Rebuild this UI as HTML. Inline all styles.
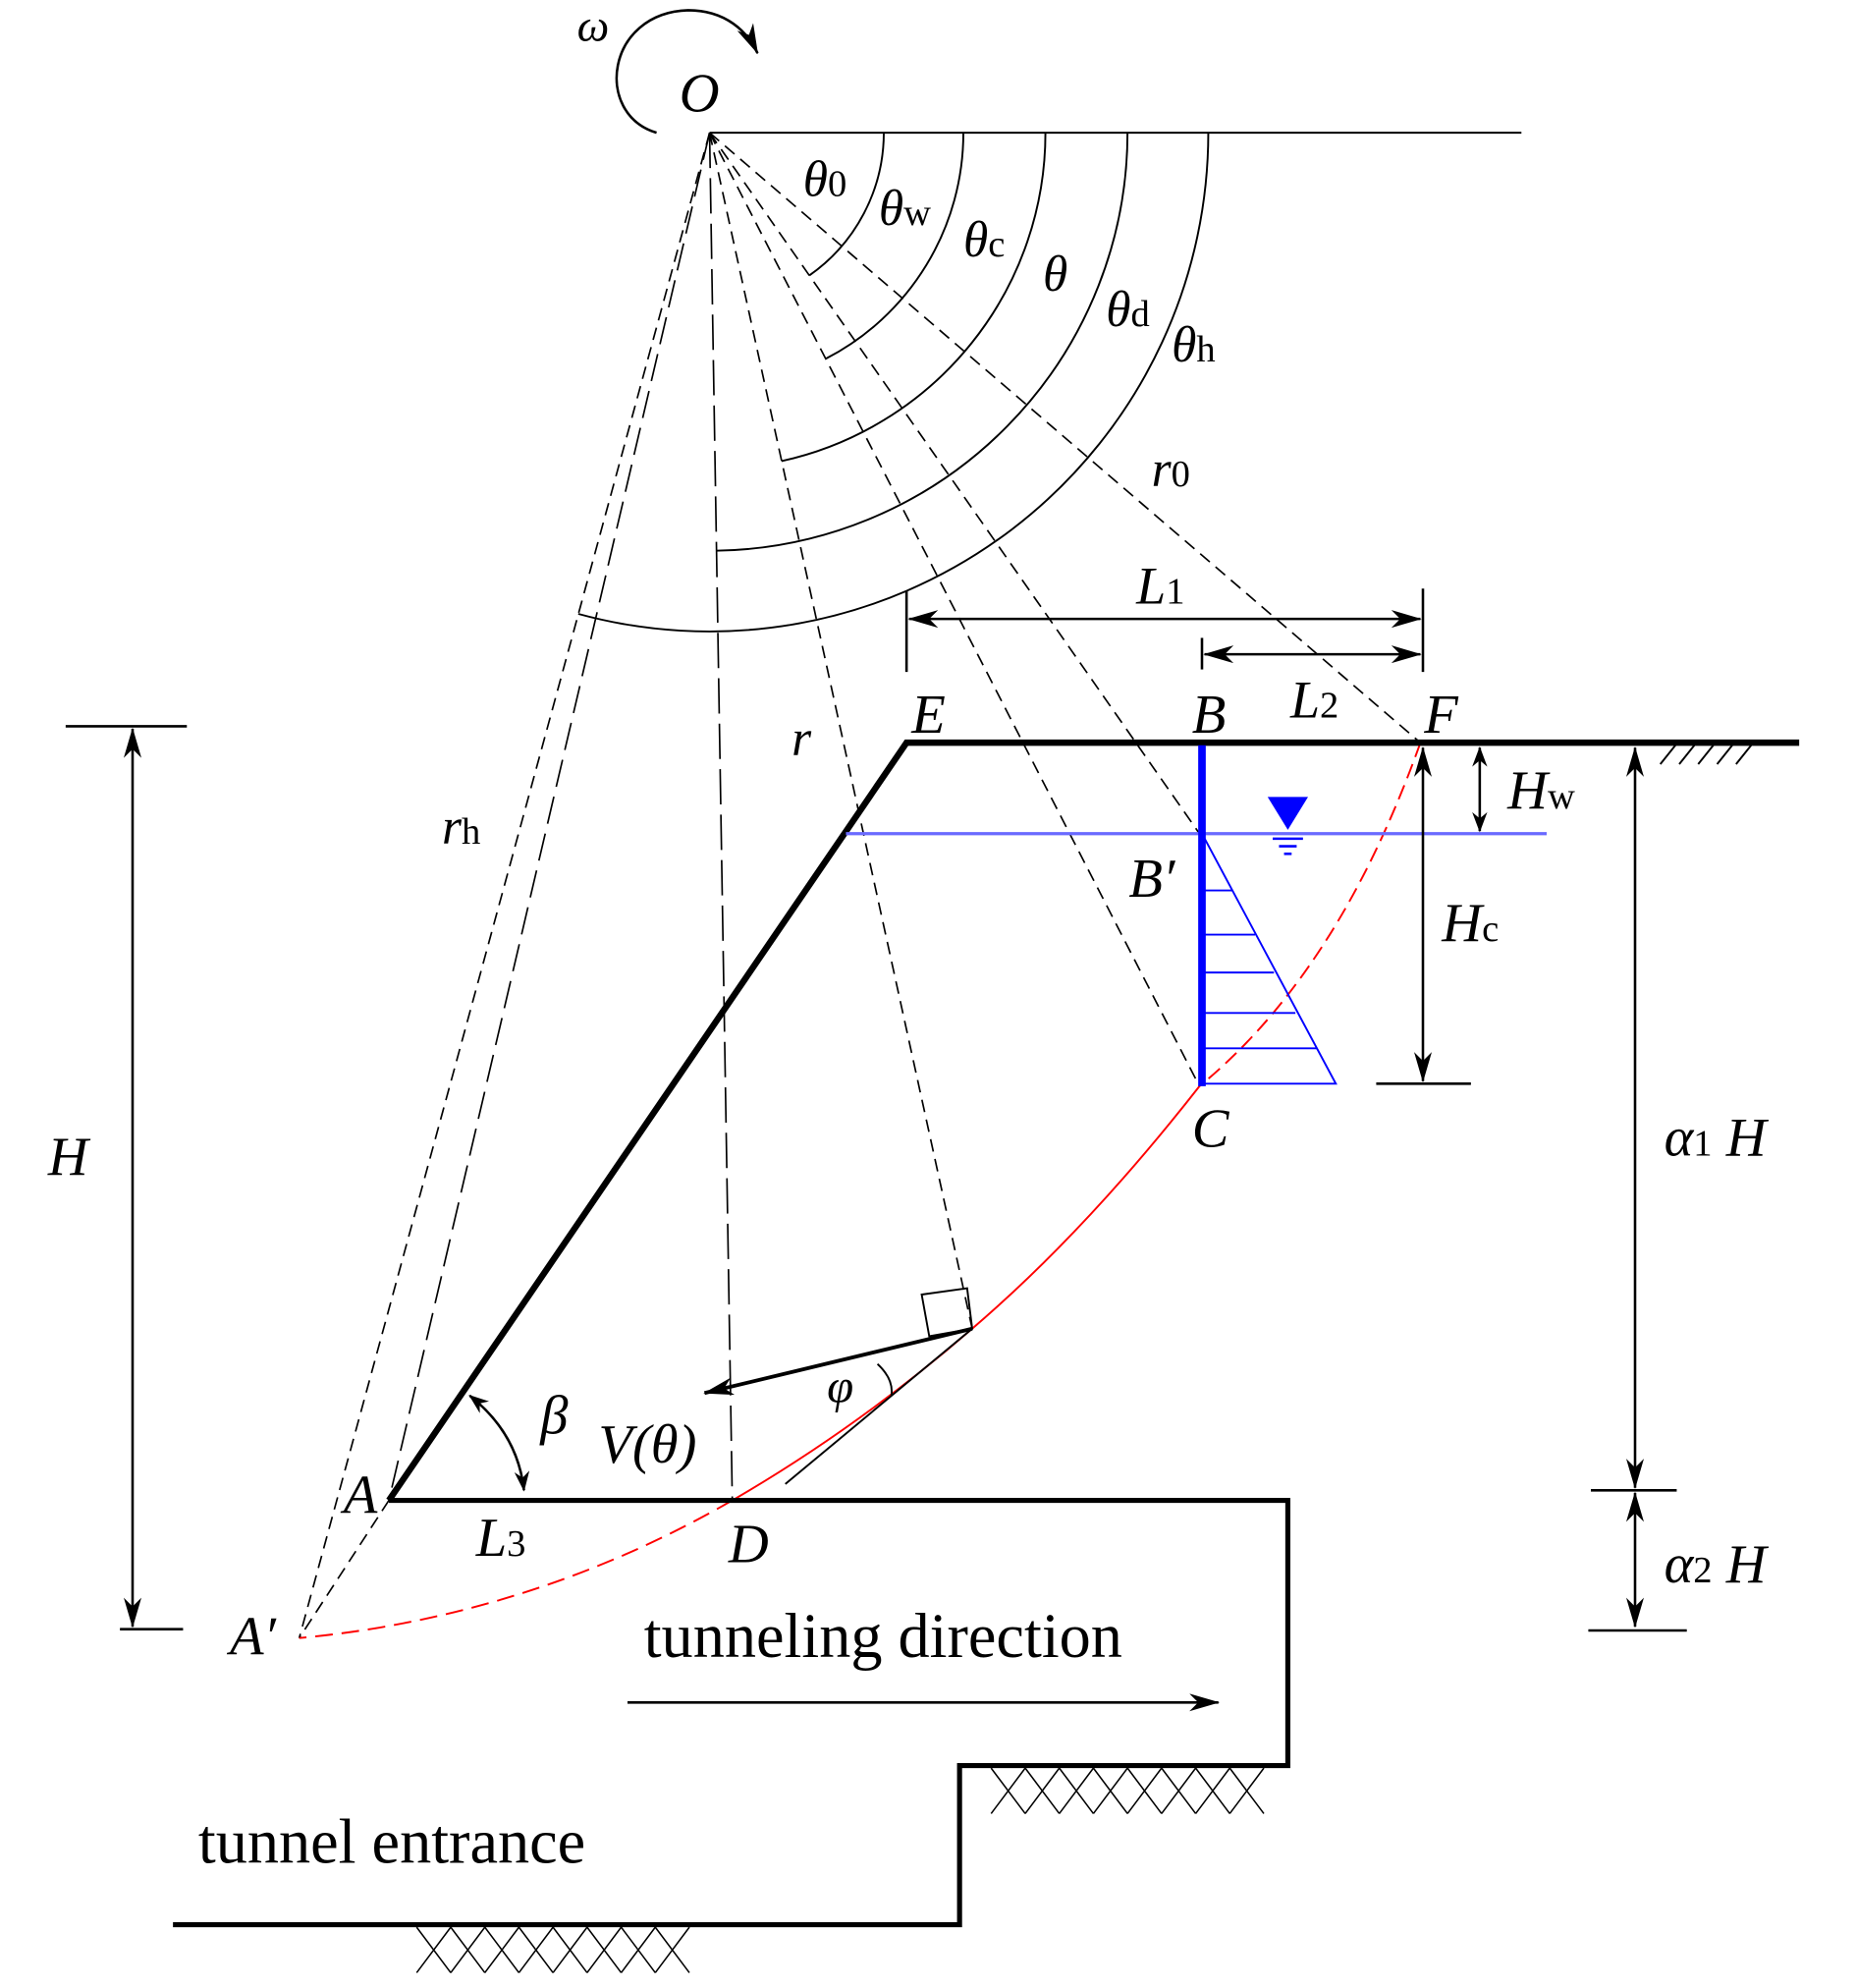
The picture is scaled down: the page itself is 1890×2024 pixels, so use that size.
<!DOCTYPE html>
<html><head><meta charset="utf-8"><style>
html,body{margin:0;padding:0;background:#fff;}
svg{display:block;}
text{font-family:"Liberation Serif",serif;font-style:italic;fill:#000;}
</style></head><body>
<svg width="1890" height="2024" viewBox="0 0 1470 1574" xmlns="http://www.w3.org/2000/svg">
<defs>
<marker id="ar" viewBox="0 0 24 14" refX="23" refY="7" markerWidth="24" markerHeight="14" markerUnits="userSpaceOnUse" orient="auto-start-reverse">
<path d="M0,0 L24,7 L0,14 L7,7 Z" fill="#000"/></marker>
<marker id="as" viewBox="0 0 16 12" refX="15" refY="6" markerWidth="16" markerHeight="12" markerUnits="userSpaceOnUse" orient="auto-start-reverse">
<path d="M0,0 L16,6 L0,12 L5,6 Z" fill="#000"/></marker>
</defs>
<line x1="562" y1="105" x2="1205" y2="105" stroke="#000" stroke-width="1.5"/>
<g fill="none" stroke="#000" stroke-width="1.5">
<path d="M700,105 A138,138 0 0 1 641,218"/>
<path d="M763,105 A201,201 0 0 1 654,284"/>
<path d="M828,105 A266,266 0 0 1 619,365"/>
<path d="M893,105 A331,331 0 0 1 567,436"/>
<path d="M957,105 A395,395 0 0 1 458,486"/>
</g>
<g stroke="#000" stroke-width="1.3" stroke-dasharray="10,6" fill="none">
<line x1="562" y1="105" x2="1125" y2="588"/>
<line x1="562" y1="105" x2="950" y2="660"/>
<line x1="562" y1="105" x2="950" y2="860"/>
<line x1="562" y1="105" x2="770" y2="1052"/>
<line x1="562" y1="105" x2="580" y2="1188" stroke-dasharray="28,8"/>
<line x1="562" y1="105" x2="308" y2="1188" stroke-dasharray="22,8"/>
<line x1="562" y1="105" x2="237" y2="1297"/>
<line x1="308" y1="1188" x2="237" y2="1297"/>
</g>
<path d="M1125,588 Q1060,770 950,860" fill="none" stroke="#f00" stroke-width="1.5" stroke-dasharray="12,6"/>
<path d="M950,860 Q860,975 770,1052 Q680,1130 580,1188" fill="none" stroke="#f00" stroke-width="1.5"/>
<path d="M580,1188 Q420,1280 237,1297" fill="none" stroke="#f00" stroke-width="1.5" stroke-dasharray="14,7"/>
<path d="M308,1188 L718,588 L1425,588" fill="none" stroke="#000" stroke-width="5"/>
<path d="M308,1188 L1020,1188 L1020,1398 L760,1398 L760,1524 L137,1524" fill="none" stroke="#000" stroke-width="4"/>
<g stroke="#000" stroke-width="1.5">
<line x1="1315" y1="605" x2="1327" y2="590"/><line x1="1330" y1="605" x2="1342" y2="590"/><line x1="1345" y1="605" x2="1357" y2="590"/><line x1="1360" y1="605" x2="1372" y2="590"/><line x1="1375" y1="605" x2="1387" y2="590"/>
</g>
<g stroke="#000" stroke-width="1.2">
<path d="M785,1400 l27,36 M812,1400 l-27,36 M812,1400 l27,36 M839,1400 l-27,36 M839,1400 l27,36 M866,1400 l-27,36 M866,1400 l27,36 M893,1400 l-27,36 M893,1400 l27,36 M920,1400 l-27,36 M920,1400 l27,36 M947,1400 l-27,36 M947,1400 l27,36 M974,1400 l-27,36 M974,1400 l27,36 M1001,1400 l-27,36"/>
<path d="M330,1526 l27,36 M357,1526 l-27,36 M357,1526 l27,36 M384,1526 l-27,36 M384,1526 l27,36 M411,1526 l-27,36 M411,1526 l27,36 M438,1526 l-27,36 M438,1526 l27,36 M465,1526 l-27,36 M465,1526 l27,36 M492,1526 l-27,36 M492,1526 l27,36 M519,1526 l-27,36 M519,1526 l27,36 M546,1526 l-27,36"/>
</g>
<line x1="670" y1="660" x2="1225" y2="660" stroke="#6a6aff" stroke-width="2.5"/>
<path d="M952,660 L1058,858 L952,858" fill="none" stroke="#00f" stroke-width="1.5"/>
<g stroke="#00f" stroke-width="1.5">
<line x1="952" y1="705" x2="976" y2="705"/><line x1="952" y1="740" x2="994" y2="740"/><line x1="952" y1="770" x2="1009" y2="770"/><line x1="952" y1="802" x2="1026" y2="802"/><line x1="952" y1="830" x2="1043" y2="830"/>
</g>
<line x1="952" y1="590" x2="952" y2="860" stroke="#00f" stroke-width="6"/>
<path d="M1004,631 L1036,631 L1020,657 Z" fill="#00f"/>
<g stroke="#00f" stroke-width="2"><line x1="1008" y1="664" x2="1032" y2="664"/><line x1="1013" y1="670" x2="1027" y2="670"/><line x1="1017" y1="676" x2="1023" y2="676"/></g>
<g stroke="#000" stroke-width="2" fill="none">
<line x1="718" y1="468" x2="718" y2="532"/><line x1="1127" y1="466" x2="1127" y2="532"/><line x1="952" y1="505" x2="952" y2="530"/>
<line x1="720" y1="490" x2="1125" y2="490" marker-start="url(#ar)" marker-end="url(#ar)"/>
<line x1="954" y1="518" x2="1125" y2="518" marker-start="url(#ar)" marker-end="url(#ar)"/>
<line x1="52" y1="575" x2="148" y2="575"/><line x1="95" y1="1290" x2="145" y2="1290"/>
<line x1="105" y1="577" x2="105" y2="1288" marker-start="url(#ar)" marker-end="url(#ar)"/>
<line x1="1127" y1="592" x2="1127" y2="856" marker-start="url(#ar)" marker-end="url(#ar)"/>
<line x1="1090" y1="858" x2="1165" y2="858"/>
<line x1="1172" y1="592" x2="1172" y2="658" marker-start="url(#as)" marker-end="url(#as)"/>
<line x1="1295" y1="592" x2="1295" y2="1178" marker-start="url(#ar)" marker-end="url(#ar)"/>
<line x1="1260" y1="1180" x2="1328" y2="1180"/>
<line x1="1295" y1="1182" x2="1295" y2="1288" marker-start="url(#ar)" marker-end="url(#ar)"/>
<line x1="1258" y1="1291" x2="1336" y2="1291"/>
<line x1="497" y1="1348" x2="965" y2="1348" marker-end="url(#ar)"/>
<line x1="770" y1="1052" x2="558" y2="1103" marker-end="url(#ar)" stroke-width="3"/>
<path d="M730,1025 L766,1020 L770,1052 L736,1058 Z" stroke-width="1.5"/>
<line x1="770" y1="1052" x2="622" y2="1175" stroke-width="1.5"/>
<path d="M695,1080 Q708,1092 706,1105" stroke-width="1.5"/>
<path d="M372,1105 Q410,1135 415,1180" marker-start="url(#as)" marker-end="url(#as)" stroke-width="2"/>
<path d="M520,105 C470,90 480,10 545,8 C575,8 592,25 600,42" stroke-width="2" marker-end="url(#ar)"/>
</g>
<g font-size="44">
<text x="457" y="32" font-size="36">ω</text>
<text x="538" y="88">O</text>
<text x="636" y="155" font-size="40">θ<tspan font-style="normal" font-size="30">0</tspan></text>
<text x="696" y="178" font-size="40">θ<tspan font-style="normal" font-size="30">w</tspan></text>
<text x="763" y="203" font-size="40">θ<tspan font-style="normal" font-size="30">c</tspan></text>
<text x="826" y="230" font-size="40">θ</text>
<text x="876" y="258" font-size="40">θ<tspan font-style="normal" font-size="30">d</tspan></text>
<text x="928" y="286" font-size="40">θ<tspan font-style="normal" font-size="30">h</tspan></text>
<text x="912" y="385" font-size="40">r<tspan font-style="normal" font-size="30">0</tspan></text>
<text x="900" y="478" font-size="42">L<tspan font-style="normal" font-size="30">1</tspan></text>
<text x="1022" y="568" font-size="42">L<tspan font-style="normal" font-size="30">2</tspan></text>
<text x="722" y="580">E</text>
<text x="944" y="580">B</text>
<text x="1128" y="580">F</text>
<text x="627" y="598" font-size="40">r</text>
<text x="350" y="668" font-size="40">r<tspan font-style="normal" font-size="30">h</tspan></text>
<text x="1194" y="640" font-size="44">H<tspan font-style="normal" font-size="30">w</tspan></text>
<text x="894" y="710">B′</text>
<text x="1142" y="745" font-size="44">H<tspan font-style="normal" font-size="30">c</tspan></text>
<text x="944" y="908">C</text>
<text x="38" y="930">H</text>
<text x="1318" y="915">α<tspan font-style="normal" font-size="30">1</tspan> H</text>
<text x="1318" y="1253">α<tspan font-style="normal" font-size="30">2</tspan> H</text>
<text x="428" y="1135">β</text>
<text x="655" y="1110" font-size="38">φ</text>
<text x="474" y="1158">V(θ)</text>
<text x="272" y="1198">A</text>
<text x="377" y="1232" font-size="44">L<tspan font-style="normal" font-size="30">3</tspan></text>
<text x="577" y="1237">D</text>
<text x="182" y="1310">A′</text>
</g>
<text x="510" y="1312" font-size="50" style="font-style:normal">tunneling direction</text>
<text x="157" y="1475" font-size="50" style="font-style:normal">tunnel entrance</text>
</svg>
</body></html>
